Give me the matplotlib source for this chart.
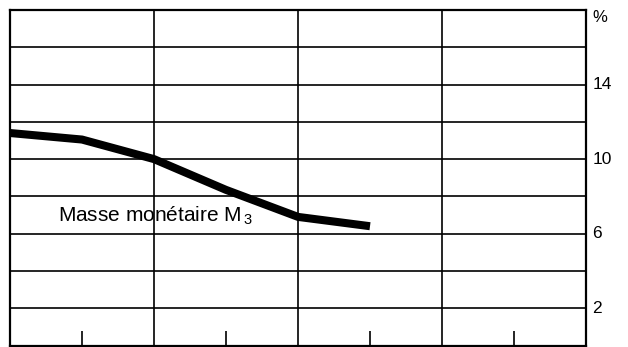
import matplotlib

matplotlib.use("Agg")
import matplotlib.pyplot as plt  # noqa: E402
from matplotlib.transforms import blended_transform_factory  # noqa: E402

plt.rcParams["font.family"] = ["Liberation Sans", "DejaVu Sans"]
plt.rcParams["mathtext.fontset"] = "custom"
plt.rcParams["mathtext.rm"] = "Liberation Sans"

DPI = 100
INK = "black"

# half-year steps, grid lines every full period
periods = [0, 1, 2, 3, 4, 5]
m3_growth = [11.4, 11.05, 10.0, 8.35, 6.9, 6.4]
label = "Masse monétaire $\\mathregular{M_{\\,3}}$"

y_ticks = [2, 6, 10, 14]
y_grid = [2, 4, 6, 8, 10, 12, 14, 16]
x_grid = [2, 4, 6]
x_minor = [1, 3, 5, 7]
unit = "%"

fig = plt.figure(figsize=(628 / DPI, 347 / DPI), dpi=DPI)
ax = fig.add_axes([10 / 628, 1.5 / 347, 576 / 628, 335.5 / 347])
ax.set_xlim(0, 8)
ax.set_ylim(0, 18)

for y in y_grid:
    ax.axhline(y, color=INK, lw=1.2, zorder=1)
for x in x_grid:
    ax.axvline(x, color=INK, lw=1.2, zorder=1)

for s in ax.spines.values():
    s.set_color(INK)
    s.set_linewidth(1.6)

ax.set_xticks(x_minor)
ax.set_xticklabels([])
ax.tick_params(axis="x", direction="in", length=11, width=1.2, color=INK)
ax.set_yticks([])

ax.plot(periods, m3_growth, color=INK, lw=5.8, solid_capstyle="butt",
        solid_joinstyle="round", zorder=3)

ax.text(0.66, 6.95, label, fontsize=15, ha="left", va="center", zorder=4)

trans = blended_transform_factory(ax.transAxes, ax.transData)
for y in y_ticks:
    ax.text(1.011, y, str(y), transform=trans, fontsize=12.5,
            ha="left", va="center")
ax.text(1.011, 17.6, unit, transform=trans, fontsize=12,
        ha="left", va="center")

fig.savefig("out.png", dpi=DPI, facecolor="white")
plt.close(fig)
